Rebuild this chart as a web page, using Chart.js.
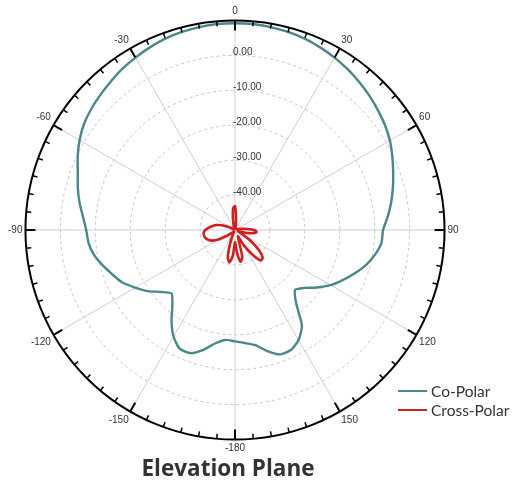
<!DOCTYPE html>
<html>
<head>
<meta charset="utf-8">
<script src="https://cdn.jsdelivr.net/npm/chart.js@4.4.1/dist/chart.umd.min.js"></script>
<style>
  html, body { margin: 0; padding: 0; background: #fff; }
  .plot__wrapper { position: relative; width: 516px; height: 481px; }
  .plot__title {
    position: absolute; left: 0; width: 456px; top: 452px; line-height: 28px;
    text-align: center; font: bold 22.5px "Open Sans", sans-serif; color: #333;
  }
  .plot__legend { position: absolute; left: 398px; top: 381px; font: 15.5px Lato, sans-serif; color: #333; }
  .legend__item { display: flex; align-items: center; height: 19.5px; }
  .legend__line { width: 29px; height: 2px; margin-right: 4px; }
</style>
</head>
<body>
<div class="plot__wrapper">
  <canvas id="pattern" width="516" height="481"></canvas>
  <div class="plot__legend" id="legend"></div>
  <div class="plot__title">Elevation Plane</div>
</div>
<script>
  // angle steps of 5 degrees, clockwise from top
  const angles = [0, 5, 10, 15, 20, 25, 30, 35, 40, 45, 50, 55, 60, 65, 70, 75, 80, 85,
    90, 95, 100, 105, 110, 115, 120, 125, 130, 135, 140, 145, 150, 155, 160, 165, 170, 175,
    180, 185, 190, 195, 200, 205, 210, 215, 220, 225, 230, 235, 240, 245, 250, 255, 260, 265,
    270, 275, 280, 285, 290, 295, 300, 305, 310, 315, 320, 325, 330, 335, 340, 345, 350, 355];
  const dialLabels = ["0", "30", "60", "90", "120", "150", "-180", "-150", "-120", "-90", "-60", "-30"];
  const ringLabels = [0, -10, -20, -30, -40];

  const coPolar = [9.2, 9.2, 9.0, 8.7, 8.3, 7.7, 7.0, 6.2, 5.3, 4.4, 3.4, 2.4, 1.2, -0.3, -1.8, -3.2, -4.6, -6.1,
    -7.6, -7.9, -9.3, -11.2, -13.6, -16.0, -18.4, -21.3, -24.2, -25.7, -22.8, -16.6, -13.6, -12.1, -12.1, -14.1, -16.5, -17.5,
    -18.1, -18.4, -17.0, -14.4, -12.5, -12.5, -14.8, -18.3, -22.1, -24.3, -22.4, -19.5, -17.0, -14.4, -12.7, -10.8, -9.0, -7.9,
    -7.4, -6.3, -4.8, -3.4, -2.1, -0.3, 1.4, 2.8, 3.8, 4.6, 5.4, 6.3, 7.0, 7.7, 8.3, 8.7, 9.0, 9.2];

  const crossPolar = [-43.2, -46.5, -48.5, -49.5, -49.5, -49.5, -49.5, -49.5, -49.5, -49.5, -49.5, -49.5, -49.5, -49.5, -49.5, -49, -48, -46.5,
    -44.5, -43.8, -44.8, -47, -49, -49, -47.5, -44.5, -41, -38.8, -38.6, -41.5, -45, -48, -47, -42, -40.8, -43.5,
    -46.5, -42.5, -40.6, -42, -46, -48.5, -49.5, -49.5, -49.5, -49, -48.5, -47, -44.5, -42.8, -41.8, -41.2, -41.0, -41.0,
    -41.5, -42.5, -43.5, -44.5, -46, -48, -49.5, -49.5, -49.5, -49.5, -49.5, -49.5, -49.5, -49.5, -49, -48.5, -46.5, -43.8];

  const colors = {
    co: "#4a8788",
    cross: "#d11f1f",
    ring: "#c4c4c4",
    spoke: "#cfcfcf",
    text: "#333",
  };

  // tick marks around the dial and the dB labels on the rings
  const dialPlugin = {
    id: "dial",
    afterDraw(chart) {
      const scale = chart.scales.r;
      const c = chart.ctx;
      const outer = scale.drawingArea;
      c.save();
      c.strokeStyle = "#000";
      for (let i = 0; i < angles.length; i++) {
        const major = i % 6 === 0;
        const p1 = scale.getPointPosition(i, outer);
        const p2 = scale.getPointPosition(i, outer - (major ? 10 : 5));
        c.lineWidth = major ? 2 : 1.5;
        c.beginPath();
        c.moveTo(p1.x, p1.y);
        c.lineTo(p2.x, p2.y);
        c.stroke();
      }
      c.font = '10px "Liberation Sans", Arial, sans-serif';
      c.fillStyle = colors.text;
      c.textAlign = "left";
      c.textBaseline = "middle";
      ringLabels.forEach((v) => {
        const d = scale.getDistanceFromCenterForValue(v);
        c.fillText(v.toFixed(2), scale.xCenter - 2, scale.yCenter - d - 3);
      });
      c.restore();
    },
  };

  const chart = new Chart(document.getElementById("pattern"), {
    type: "radar",
    data: {
      labels: angles,
      datasets: [
        {
          label: "Co-Polar",
          data: coPolar,
          borderColor: colors.co,
          borderWidth: 2.4,
          pointRadius: 0,
          fill: false,
          tension: 0.2,
        },
        {
          label: "Cross-Polar",
          data: crossPolar,
          borderColor: colors.cross,
          borderWidth: 2.6,
          pointRadius: 0,
          fill: false,
          tension: 0.25,
        },
      ],
    },
    options: {
      responsive: false,
      animation: false,
      events: [],
      layout: { padding: { left: 7, top: 3, right: 55, bottom: 24 } },
      plugins: {
        legend: { display: false },
        title: { display: false },
        tooltip: { enabled: false },
      },
      scales: {
        r: {
          min: -50,
          max: 10,
          ticks: { display: false, stepSize: 10 },
          grid: {
            circular: true,
            color: (c) => (c.tick.value === 10 ? "#000" : colors.ring),
            lineWidth: (c) => (c.tick.value === 10 ? 2 : 1),
          },
          border: { dash: (c) => (c.tick.value === 10 ? [] : [3, 3]) },
          angleLines: {
            color: colors.spoke,
            lineWidth: (c) => (c.index % 6 === 0 ? 1 : 0),
          },
          pointLabels: {
            padding: 3,
            color: colors.text,
            font: { size: 10, family: '"Liberation Sans", Arial, sans-serif' },
            callback: (label, i) => (i % 6 === 0 ? dialLabels[i / 6] : ""),
          },
        },
      },
    },
    plugins: [dialPlugin],
  });

  // html legend built from the datasets
  const legend = document.getElementById("legend");
  chart.data.datasets.forEach((ds) => {
    const item = document.createElement("div");
    item.className = "legend__item";
    item.innerHTML = `<span class="legend__line" style="background:${ds.borderColor}"></span>${ds.label}`;
    legend.appendChild(item);
  });
</script>
</body>
</html>
